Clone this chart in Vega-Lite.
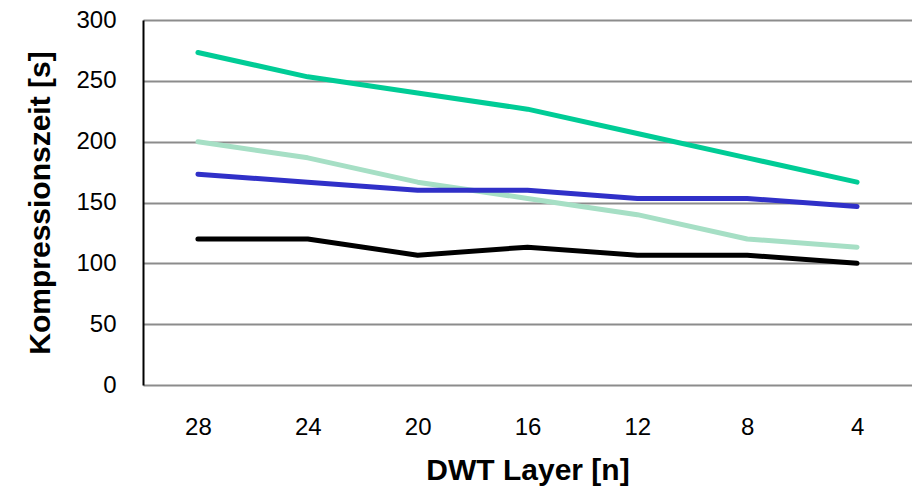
{
  "$schema": "https://vega.github.io/schema/vega-lite/v6.json",
  "width": 769,
  "height": 365,
  "autosize": {"type": "none"},
  "padding": {"left": 143, "top": 20, "right": 0, "bottom": 113},
  "background": "white",
  "config": {
    "font": "Liberation Sans",
    "view": {"stroke": null},
    "axis": {"labelFont": "Liberation Sans", "titleFont": "Liberation Sans"}
  },
  "data": {
    "values": [
      {"layer": "28", "series": "A", "t": 273.3},
      {"layer": "24", "series": "A", "t": 253.3},
      {"layer": "20", "series": "A", "t": 240},
      {"layer": "16", "series": "A", "t": 226.7},
      {"layer": "12", "series": "A", "t": 206.7},
      {"layer": "8", "series": "A", "t": 186.7},
      {"layer": "4", "series": "A", "t": 166.7},
      {"layer": "28", "series": "B", "t": 200},
      {"layer": "24", "series": "B", "t": 186.7},
      {"layer": "20", "series": "B", "t": 166.7},
      {"layer": "16", "series": "B", "t": 153.3},
      {"layer": "12", "series": "B", "t": 140},
      {"layer": "8", "series": "B", "t": 120},
      {"layer": "4", "series": "B", "t": 113.3},
      {"layer": "28", "series": "C", "t": 173.3},
      {"layer": "24", "series": "C", "t": 166.7},
      {"layer": "20", "series": "C", "t": 160},
      {"layer": "16", "series": "C", "t": 160},
      {"layer": "12", "series": "C", "t": 153.3},
      {"layer": "8", "series": "C", "t": 153.3},
      {"layer": "4", "series": "C", "t": 146.7},
      {"layer": "28", "series": "D", "t": 120},
      {"layer": "24", "series": "D", "t": 120},
      {"layer": "20", "series": "D", "t": 106.7},
      {"layer": "16", "series": "D", "t": 113.3},
      {"layer": "12", "series": "D", "t": 106.7},
      {"layer": "8", "series": "D", "t": 106.7},
      {"layer": "4", "series": "D", "t": 100}
    ]
  },
  "mark": {"type": "line", "strokeWidth": 5, "strokeCap": "round", "strokeJoin": "round"},
  "encoding": {
    "x": {
      "field": "layer",
      "type": "ordinal",
      "sort": ["28", "24", "20", "16", "12", "8", "4"],
      "scale": {"paddingInner": 0, "paddingOuter": 0.5},
      "axis": {
        "title": "DWT Layer [n]",
        "titleFontSize": 30,
        "titleFontWeight": "bold",
        "titleColor": "black",
        "titlePadding": 16,
        "labelFontSize": 24,
        "labelColor": "black",
        "labelAngle": 0,
        "labelPadding": 30,
        "ticks": false,
        "domain": false,
        "grid": false
      }
    },
    "y": {
      "field": "t",
      "type": "quantitative",
      "scale": {"domain": [0, 300], "nice": false},
      "axis": {
        "title": "Kompressionszeit [s]",
        "titleFontSize": 30,
        "titleFontWeight": "bold",
        "titleColor": "black",
        "titlePadding": 20,
        "values": [0, 50, 100, 150, 200, 250, 300],
        "labelFontSize": 24,
        "labelColor": "black",
        "labelPadding": 27,
        "ticks": false,
        "domain": true,
        "domainColor": "black",
        "domainWidth": 2,
        "grid": true,
        "gridColor": "#8c8c8c",
        "gridWidth": 2
      }
    },
    "color": {
      "field": "series",
      "type": "nominal",
      "scale": {"domain": ["A", "B", "C", "D"], "range": ["#00cc96", "#a6dfc5", "#3030c8", "#000000"]},
      "legend": null
    }
  }
}
